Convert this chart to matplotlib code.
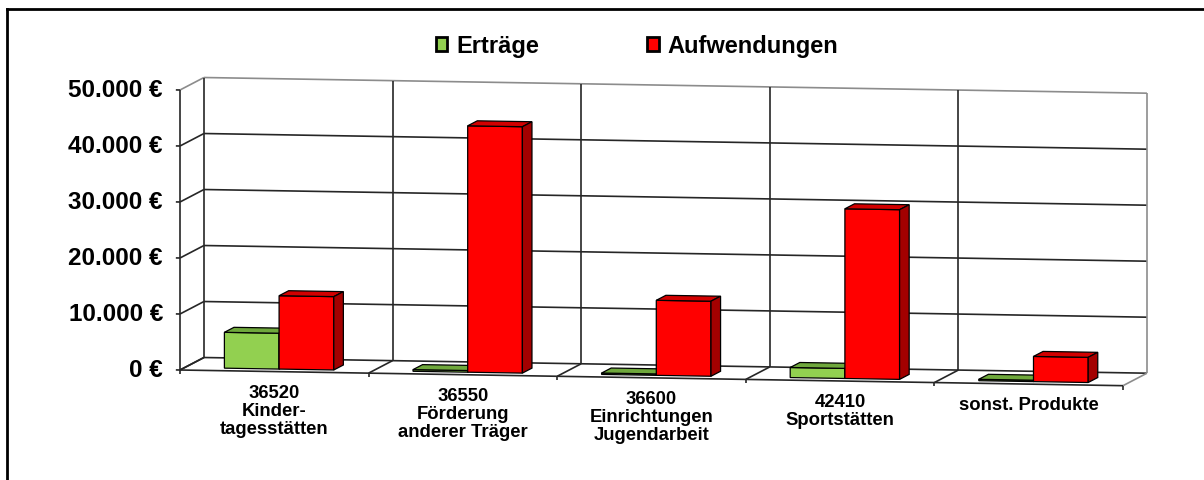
import matplotlib
matplotlib.use("Agg")
import matplotlib.pyplot as plt
import numpy as np
from matplotlib.lines import Line2D
from matplotlib.patches import Patch, Polygon
from matplotlib.transforms import Affine2D, offset_copy

plt.rcParams["font.family"] = ["Liberation Sans", "DejaVu Sans"]
plt.rcParams["font.weight"] = "bold"

categories = [
    "36520\nKinder-\ntagesstätten",
    "36550\nFörderung\nanderer Träger",
    "36600\nEinrichtungen\nJugendarbeit",
    "42410\nSportstätten",
    "sonst. Produkte",
]
series_names = ["Erträge", "Aufwendungen"]
ertraege = [6400, 300, 250, 1800, 250]
aufwendungen = [13100, 44000, 13400, 30300, 4500]
y_ticks = [0, 10000, 20000, 30000, 40000, 50000]

# front / top / side face colours
GREEN = ("#92D050", "#6FA83C", "#5B8E2F")
RED = ("#FF0000", "#D20000", "#A30000")
DARK = "#262626"
GREY = "#8c8c8c"

# pseudo 3d: slope of the floor and depth offset, in data units
SLOPE = 560.0
DEPTH_X = 0.127
DEPTH_Y = 2230.0
BAR_FRONT, BAR_BACK = 0.2, 0.6
BAR_W = 0.29

n = len(categories)
y_max = y_ticks[-1]

fig = plt.figure(figsize=(12.04, 4.81), dpi=100)
ax = fig.add_axes([180 / 1204, 110 / 481, 943 / 1204, 280 / 481])
ax.set_xlim(0, n)
ax.set_ylim(0, y_max)
ax.set_axis_off()


def proj(depth):
    m = np.array([[1.0, 0.0, DEPTH_X * depth],
                  [-SLOPE, 1.0, DEPTH_Y * depth],
                  [0.0, 0.0, 1.0]])
    return Affine2D(m) + ax.transData


def flat(x, v, d):
    x = np.asarray(x, dtype=float)
    v = np.asarray(v, dtype=float)
    d = np.asarray(d, dtype=float)
    return x + DEPTH_X * d, v - SLOPE * x + DEPTH_Y * d


def seg(x, v, d, color=DARK, lw=1.2, z=1):
    xs, ys = flat(x, v, d)
    ax.plot(xs, ys, color=color, lw=lw, zorder=z, clip_on=False,
            solid_capstyle="butt")


# walls, floor and grid
for v in y_ticks:
    top = v == y_max
    seg([0, n], [v, v], [1, 1], color=GREY if top else DARK)
    seg([0, 0], [v, v], [0, 1], color=GREY if top else DARK)
    seg([0, -0.022], [v, v], [0, 0])
for b in range(n + 1):
    last = b == n
    seg([b, b], [0, y_max], [1, 1], color=GREY if last else DARK)
    seg([b, b], [0, 0], [0, 1], color=GREY if last else DARK)
    seg([b, b], [0, -700], [0, 0])
seg([0, 0], [0, y_max], [0, 0])
seg([0, n], [0, 0], [0, 0])

# bars
centers = np.arange(n) + 0.5
for vals, cols, shift in [(ertraege, GREEN, -BAR_W / 2), (aufwendungen, RED, BAR_W / 2)]:
    xs = centers + shift
    ax.bar(xs, vals, width=BAR_W, color=cols[0], edgecolor="black", lw=0.9,
           transform=proj(BAR_FRONT), zorder=3, clip_on=False)
    for x, v in zip(xs, vals):
        x0, x1 = x - BAR_W / 2, x + BAR_W / 2
        px, py = flat([x0, x1, x1, x0], [v, v, v, v],
                      [BAR_FRONT, BAR_FRONT, BAR_BACK, BAR_BACK])
        ax.add_patch(Polygon(np.column_stack([px, py]), closed=True, fc=cols[1],
                             ec="black", lw=0.9, zorder=3, clip_on=False))
        px, py = flat([x1, x1, x1, x1], [0, v, v, 0],
                      [BAR_FRONT, BAR_FRONT, BAR_BACK, BAR_BACK])
        ax.add_patch(Polygon(np.column_stack([px, py]), closed=True, fc=cols[2],
                             ec="black", lw=0.9, zorder=3, clip_on=False))

# tick labels
ytrans = offset_copy(proj(0), x=-17, y=0, units="dots")
for v in y_ticks:
    label = f"{v:,.0f}".replace(",", ".") + " €"
    ax.text(0, v, label, transform=ytrans, ha="right", va="center", fontsize=17.5)

xtrans = offset_copy(proj(0), x=0, y=-12, units="dots")
for c, cat in zip(centers, categories):
    ax.text(c, 0, cat, transform=xtrans, ha="center", va="top", fontsize=13.3,
            linespacing=1.1, multialignment="center")

# legend
handles = [Patch(facecolor=GREEN[0], edgecolor="black", lw=2),
           Patch(facecolor=RED[0], edgecolor="black", lw=2)]
fig.legend(handles, series_names, loc="center", bbox_to_anchor=(637 / 1204, 1 - 47 / 481),
           ncol=2, frameon=False, fontsize=17, handlelength=0.5, handleheight=0.5,
           handletextpad=0.36, columnspacing=4.6, borderpad=0)

# outer frame (left and top edge visible)
fig.add_artist(Line2D([7 / 1204, 7 / 1204], [0, 1 - 10 / 481], transform=fig.transFigure,
                      color="black", lw=2))
fig.add_artist(Line2D([7 / 1204, 1], [1 - 10 / 481, 1 - 10 / 481], transform=fig.transFigure,
                      color="black", lw=2))

fig.savefig("out.png", dpi=100, facecolor="white")
plt.close(fig)
